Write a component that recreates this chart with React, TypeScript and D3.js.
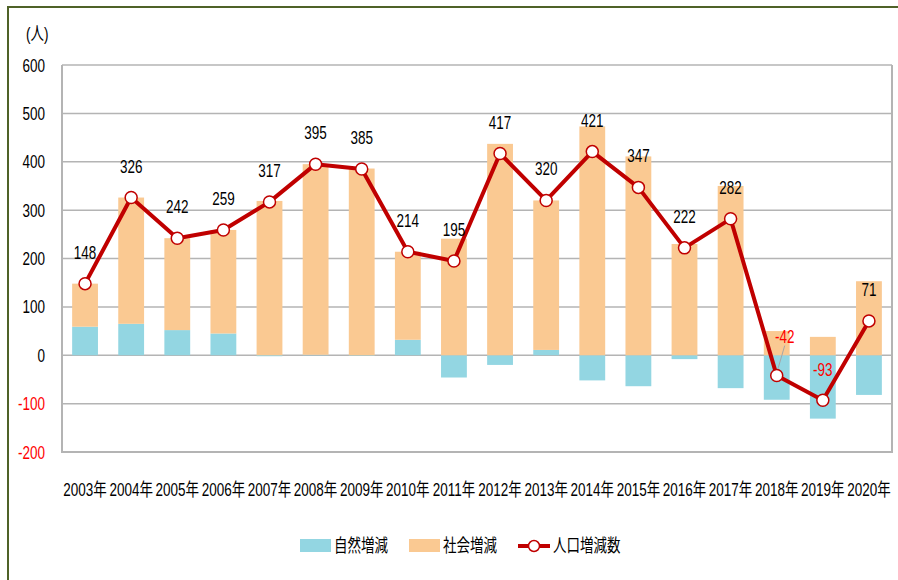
import * as d3 from 'd3';
import React, { useRef, useEffect } from 'react';

// 年ごとの人口増減（人）
const years = ['2003年', '2004年', '2005年', '2006年', '2007年', '2008年', '2009年', '2010年', '2011年',
    '2012年', '2013年', '2014年', '2015年', '2016年', '2017年', '2018年', '2019年', '2020年'];
const naturalChange = [59, 65, 52, 45, -2, 1, -1, 32, -46, -20, 11, -52, -64, -8, -68, -92, -131, -82];
const socialChange = [89, 261, 190, 214, 319, 394, 386, 182, 241, 437, 309, 473, 411, 230, 350, 50, 38, 153];
const totalChange = [148, 326, 242, 259, 317, 395, 385, 214, 195, 417, 320, 421, 347, 222, 282, -42, -93, 71];
const yTicks = [600, 500, 400, 300, 200, 100, 0, -100, -200];

const FONT = '"Liberation Sans", "Noto Sans CJK JP", sans-serif';
const BLUE = '#93d6e2';
const ORANGE = '#fac992';
const RED = '#c00000';
const SQUEEZE = 0.75; // the original text is narrow and tall

function PopulationChart({ width, height }: { width: number, height: number }) {
    const ref = useRef<SVGSVGElement>(null);

    useEffect(() => {
        const margin = { top: 65, right: 6, bottom: 128, left: 62 };
        const svg = d3.select(ref.current);
        svg.selectAll('*').remove();

        const label = (g: any, px: number, py: number, txt: string | number, anchor = 'middle', color = '#000', size = 18) =>
            g.append('text')
                .attr('transform', `translate(${px},${py}) scale(${SQUEEZE},1)`)
                .attr('text-anchor', anchor)
                .attr('font-family', FONT).attr('font-size', size)
                .attr('fill', color)
                .text(txt);

        // outer frame (only top + left visible in the original)
        svg.append('path')
            .attr('d', `M8,${height} L8,7 L${width},7`)
            .attr('fill', 'none')
            .attr('stroke', '#4f6228')
            .attr('stroke-width', 2);

        const x = d3.scaleBand().domain(years).range([margin.left, width - margin.right]).paddingInner(0.44).paddingOuter(0.22);
        const y = d3.scaleLinear().domain([-200, 600]).range([height - margin.bottom, margin.top]);

        // gridlines
        svg.append('g').selectAll('line').data(yTicks).enter().append('line')
            .attr('x1', margin.left).attr('x2', width - margin.right)
            .attr('y1', d => y(d)).attr('y2', d => y(d))
            .attr('stroke', '#b4b4b4').attr('stroke-width', 1.5);

        // y tick labels
        const yl = svg.append('g');
        yTicks.forEach(t => label(yl, 45, y(t) + 6.5, t, 'end', t < 0 ? '#ff0000' : '#000'));

        label(svg, 26, 40, '(人)', 'start');

        // stacked bars: natural change sits against zero, social change on top / below
        const bars = svg.append('g');
        years.forEach((yr, i) => {
            const n = naturalChange[i];
            const s = socialChange[i];
            const bx = x(yr) as number;
            bars.append('rect')
                .attr('x', bx).attr('width', x.bandwidth())
                .attr('y', y(Math.max(0, n))).attr('height', Math.abs(y(n) - y(0)))
                .attr('fill', BLUE);
            const base = s >= 0 ? Math.max(0, n) : Math.min(0, n);
            bars.append('rect')
                .attr('x', bx).attr('width', x.bandwidth())
                .attr('y', y(Math.max(base, base + s))).attr('height', Math.abs(y(base + s) - y(base)))
                .attr('fill', ORANGE);
        });

        // plot border (left, bottom, right)
        svg.append('path')
            .attr('d', `M${margin.left},${y(600)} L${margin.left},${y(-200)} L${width - margin.right},${y(-200)} L${width - margin.right},${y(600)}`)
            .attr('fill', 'none').attr('stroke', '#b4b4b4').attr('stroke-width', 2);

        // x labels
        const xl = svg.append('g');
        years.forEach(yr => label(xl, (x(yr) as number) + x.bandwidth() / 2, height - margin.bottom + 44, yr));

        const cx = (i: number) => (x(years[i]) as number) + x.bandwidth() / 2;

        // leader line for 2018 label
        svg.append('line')
            .attr('x1', cx(15) + 1).attr('y1', y(totalChange[15]) - 6)
            .attr('x2', cx(15) + 8).attr('y2', y(totalChange[15]) - 30)
            .attr('stroke', '#a6a6a6').attr('stroke-width', 1);

        const line = d3.line<number>().x((d, i) => cx(i)).y(d => y(d));
        svg.append('path')
            .datum(totalChange)
            .attr('d', line)
            .attr('fill', 'none').attr('stroke', RED).attr('stroke-width', 4)
            .attr('stroke-linejoin', 'round');

        svg.append('g').selectAll('circle').data(totalChange).enter().append('circle')
            .attr('cx', (d, i) => cx(i)).attr('cy', d => y(d))
            .attr('r', 6).attr('fill', '#fff').attr('stroke', RED).attr('stroke-width', 1.5);

        // data labels
        const dl = svg.append('g');
        totalChange.forEach((v, i) => {
            const off = i === 15 ? 33 : i === 16 ? 24 : 25;
            label(dl, cx(i) + (i === 15 ? 8 : 0), y(v) - off, v, 'middle', v < 0 ? '#ff0000' : '#000');
        });

        // legend
        const ly = 545;
        const legend = svg.append('g');
        legend.append('rect').attr('x', 300).attr('y', ly - 6).attr('width', 31).attr('height', 13).attr('fill', BLUE);
        label(legend, 334, ly + 7, '自然増減', 'start');
        legend.append('rect').attr('x', 409).attr('y', ly - 6).attr('width', 31).attr('height', 13).attr('fill', ORANGE);
        label(legend, 443, ly + 7, '社会増減', 'start');
        legend.append('line').attr('x1', 518).attr('x2', 550).attr('y1', ly + 1).attr('y2', ly + 1)
            .attr('stroke', RED).attr('stroke-width', 4);
        legend.append('circle').attr('cx', 534).attr('cy', ly + 1).attr('r', 5.5)
            .attr('fill', '#fff').attr('stroke', RED).attr('stroke-width', 1.5);
        label(legend, 553, ly + 7, '人口増減数', 'start');
    }, [width, height]);

    return <svg ref={ref} width={width} height={height} style={{ display: 'block' }} />;
}

export default function App() {
    return (
        <div style={{ position: 'absolute', left: 0, top: 0 }}>
            <PopulationChart width={898} height={580} />
        </div>
    );
}
